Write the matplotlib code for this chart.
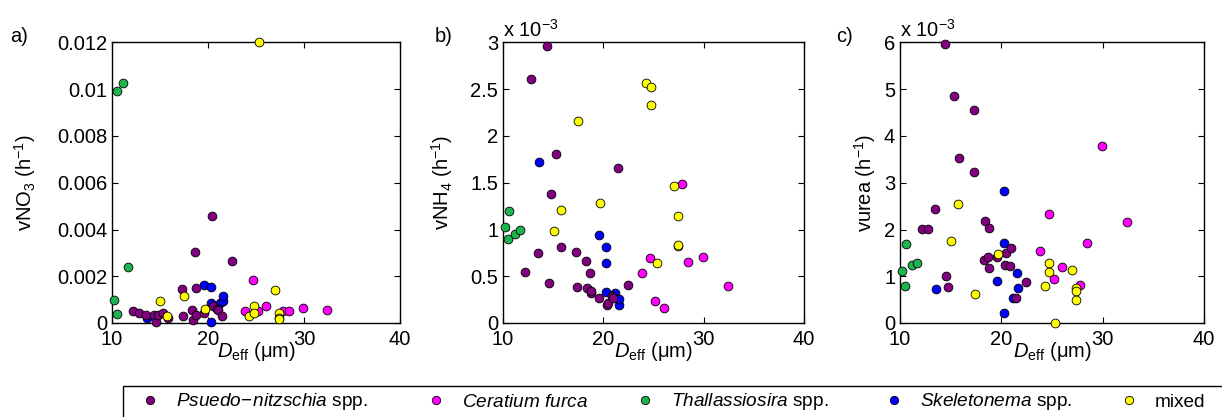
import matplotlib
matplotlib.use('Agg')
import matplotlib.pyplot as plt
from matplotlib.lines import Line2D
from matplotlib.patches import Rectangle

plt.rcParams['font.family'] = ['Liberation Sans', 'DejaVu Sans']
plt.rcParams['mathtext.fontset'] = 'custom'
plt.rcParams['mathtext.rm'] = 'Liberation Sans'
plt.rcParams['mathtext.it'] = 'Liberation Sans:italic'
plt.rcParams['mathtext.bf'] = 'Liberation Sans:bold'

# ---------------- data (uptake rates in 1e-3 h^-1, D_eff in um) ----------------
labels = [r'$\it{Psuedo\!-\!nitzschia}$ spp.', r'$\it{Ceratium\ furca}$',
          r'$\it{Thallassiosira}$ spp.', r'$\it{Skeletonema}$ spp.', 'mixed']
colors = ['#800080', '#ff00ff', '#1db34f', '#0000ff', '#ffff00']

x_pn = [12.2, 12.8, 13.5, 14.4, 14.55, 14.75, 15.3, 15.8, 17.3, 17.35, 18.3,
        18.4, 18.65, 18.75, 18.8, 19.6, 20.4, 20.5, 20.9, 21.0, 21.45, 22.45]
no3_pn = [0.53, 0.43, 0.34, 0.36, 0.03, 0.36, 0.43, 0.21, 1.45, 0.28, 0.54,
          0.14, 3.02, 1.51, 0.36, 0.43, 4.56, 0.71, 0.60, 0.55, 0.31, 2.65]
nh4_pn = [0.55, 2.61, 0.75, 2.96, 0.43, 1.38, 1.81, 0.81, 0.76, 0.38, 0.66,
          0.37, 0.54, 0.32, 0.34, 0.27, 0.19, 0.21, 0.29, 0.27, 1.66, 0.41]
urea_pn = [2.02, 2.02, 2.43, 5.96, 1.01, 0.77, 4.86, 3.54, 3.24, 4.56, 1.34,
           2.19, 1.41, 1.17, 2.04, 1.41, 1.25, 1.50, 1.22, 1.60, 0.54, 0.87]

x_cf = [23.85, 24.7, 25.17, 26.0, 27.8, 28.47, 29.93, 32.4]
no3_cf = [0.50, 1.85, 0.53, 0.71, 0.50, 0.50, 0.63, 0.54]
nh4_cf = [0.53, 0.69, 0.23, 0.16, 1.49, 0.65, 0.71, 0.40]
urea_cf = [1.54, 2.33, 0.94, 1.20, 0.82, 1.72, 3.78, 2.16]

x_th = [10.2, 10.5, 10.55, 11.15, 11.7]
no3_th = [1.00, 9.94, 0.40, 10.28, 2.41]
nh4_th = [1.03, 0.90, 1.20, 0.95, 1.00]
urea_th = [1.11, 0.80, 1.69, 1.24, 1.28]

x_sk = [13.6, 19.6, 20.3, 20.3, 20.3, 21.2, 21.55, 21.6]
no3_sk = [0.21, 1.61, 1.55, 0.85, 0.03, 0.85, 0.93, 1.17]
nh4_sk = [1.72, 0.94, 0.81, 0.64, 0.33, 0.32, 0.19, 0.26]
urea_sk = [0.72, 0.89, 2.83, 1.71, 0.21, 0.53, 1.07, 0.74]

x_mx = [15.05, 15.75, 17.45, 19.7, 24.3, 24.75, 24.75, 25.3, 27.0, 27.4, 27.4, 27.4]
no3_mx = [0.94, 0.31, 1.17, 0.60, 0.31, 0.74, 0.43, 12.0, 1.42, 0.43, 0.21, 0.18]
nh4_mx = [0.98, 1.21, 2.16, 1.28, 2.57, 2.52, 2.33, 0.64, 1.47, 1.14, 0.82, 0.83]
urea_mx = [1.75, 2.54, 0.62, 1.47, 0.79, 1.29, 1.09, 0.01, 1.14, 0.75, 0.69, 0.49]

xticks = [10, 20, 30, 40]
yticks_a = [0, 0.002, 0.004, 0.006, 0.008, 0.010, 0.012]
yticklabels_a = ['0', '0.002', '0.004', '0.006', '0.008', '0.01', '0.012']
yticks_b = [0, 0.5, 1, 1.5, 2, 2.5, 3]
yticklabels_b = ['0', '0.5', '1', '1.5', '2', '2.5', '3']
yticks_c = [0, 1, 2, 3, 4, 5, 6]
yticklabels_c = ['0', '1', '2', '3', '4', '5', '6']

xs = [x_pn, x_cf, x_th, x_sk, x_mx]
no3 = [no3_pn, no3_cf, no3_th, no3_sk, no3_mx]
nh4 = [nh4_pn, nh4_cf, nh4_th, nh4_sk, nh4_mx]
urea = [urea_pn, urea_cf, urea_th, urea_sk, urea_mx]
draw_order = [1, 2, 3, 0, 4]

W, H = 1222, 417
fig = plt.figure(figsize=(W / 100, H / 100), dpi=100)

panels = [
    dict(rect=(112, 400), data=no3, scale=1e-3, ylim=0.012, yt=yticks_a, ytl=yticklabels_a,
         ylabel=r'vNO$_3$ (h$^{-1}$)', ylx=38, tag='a)', tagx=10, mult=False),
    dict(rect=(503, 804), data=nh4, scale=1.0, ylim=3, yt=yticks_b, ytl=yticklabels_b,
         ylabel=r'vNH$_4$ (h$^{-1}$)', ylx=455, tag='b)', tagx=435, mult=True),
    dict(rect=(900, 1204), data=urea, scale=1.0, ylim=6, yt=yticks_c, ytl=yticklabels_c,
         ylabel=r'vurea (h$^{-1}$)', ylx=878, tag='c)', tagx=836, mult=True),
]
top_px, bot_px = 42.5, 323
tfs = 14.5

for p in panels:
    l, r = p['rect']
    ax = fig.add_axes([l / W, 1 - bot_px / H, (r - l) / W, (bot_px - top_px) / H])
    for i in draw_order:
        ax.scatter(xs[i], [v * p['scale'] for v in p['data'][i]], s=40,
                   c=colors[i], edgecolors='k', linewidths=0.6, zorder=3, clip_on=False)
    ax.set_xlim(10, 40)
    ax.set_ylim(0, p['ylim'])
    ax.set_xticks(xticks)
    ax.set_xticklabels([str(t) for t in xticks])
    ax.set_yticks(p['yt'])
    ax.set_yticklabels(p['ytl'])
    ax.tick_params(direction='in', top=True, right=True, length=4, width=0.8, labelsize=tfs)
    ax.tick_params(axis='x', pad=5)
    ax.tick_params(axis='y', pad=3.5)
    for sp in ax.spines.values():
        sp.set_linewidth(1.0)
    ax.set_xlabel(r'$D_{\rm eff}$ (μm)', fontsize=tfs)
    ax.xaxis.set_label_coords(0.5, -0.06)
    ax.set_ylabel(p['ylabel'], fontsize=tfs)
    ax.yaxis.set_label_coords((p['ylx'] - l) / (r - l), 0.5)
    if p['mult']:
        ax.text(0, 1 + 5.5 / (bot_px - top_px), r'x 10$^{-3}$', transform=ax.transAxes,
                ha='left', va='baseline', fontsize=tfs)
    fig.text(p['tagx'] / W, 1 - 37 / H, p['tag'], ha='left', va='center', fontsize=tfs)

# legend
marker_px = [150, 436, 645, 894, 1129]
fs = 13.7
fs_px = fs * 100 / 72
for i in range(5):
    h = Line2D([], [], marker='o', linestyle='none', markerfacecolor=colors[i],
               markeredgecolor='k', markersize=6, markeredgewidth=0.6)
    fig.legend(handles=[h], labels=[labels[i]], loc='center left',
               bbox_to_anchor=((marker_px[i] - 0.5 * fs_px) / W, 1 - 402 / H),
               bbox_transform=fig.transFigure, frameon=False, borderpad=0,
               borderaxespad=0, handlelength=1.0, handletextpad=(26 - 0.5 * fs_px) / fs_px,
               fontsize=fs)

fig.add_artist(Rectangle((123 / W, -0.2), 1.0, 0.2 + (H - 386) / H, transform=fig.transFigure,
                         fill=False, lw=1.0, ec='k'))

fig.savefig('out.png', dpi=100)
